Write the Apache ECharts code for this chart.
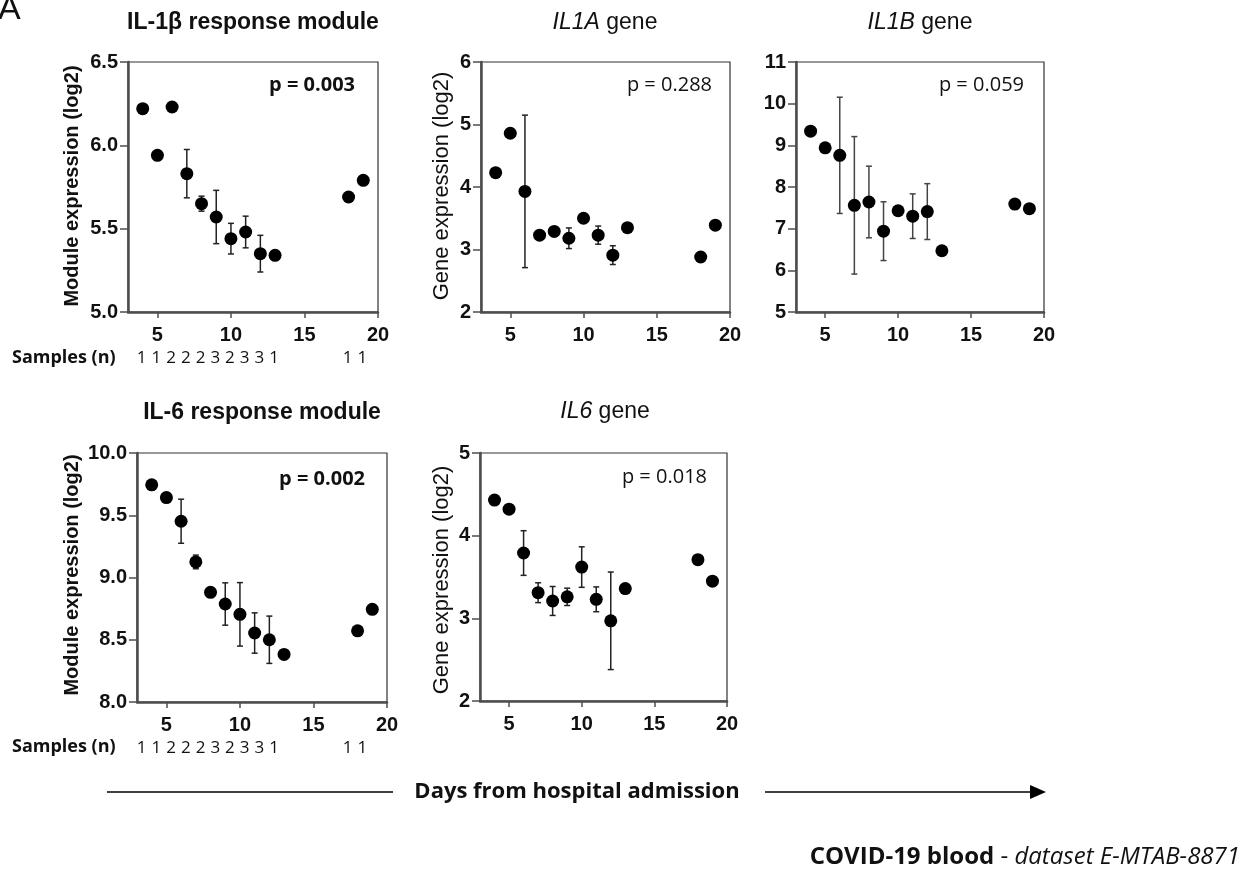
<!DOCTYPE html>
<html>
<head>
<meta charset="utf-8">
<title>COVID-19 blood - E-MTAB-8871</title>
<script src="https://cdn.jsdelivr.net/npm/echarts@6/dist/echarts.min.js"></script>
<style>
  html, body { margin: 0; padding: 0; background: #fff; }
  #chart { width: 1249px; height: 873px; }
</style>
</head>
<body>
<div id="chart"></div>
<script>
// days from hospital admission (x values shared by all panels)
var days = [4, 5, 6, 7, 8, 9, 10, 11, 12, 13, 18, 19];
var samples = [1, 1, 2, 2, 2, 3, 2, 3, 3, 1, 1, 1];
var xTicks = [5, 10, 15, 20];

// mean and error (half width), null = no bar
var il1bModuleMean = [6.22, 5.94, 6.23, 5.83, 5.65, 5.57, 5.44, 5.48, 5.35, 5.34, 5.69, 5.79];
var il1bModuleErr = [null, null, 0.025, 0.145, 0.045, 0.16, 0.092, 0.095, 0.11, null, null, null];

var il1aGeneMean = [4.23, 4.86, 3.93, 3.23, 3.29, 3.18, 3.50, 3.23, 2.91, 3.35, 2.88, 3.39];
var il1aGeneErr = [null, null, 1.22, null, null, 0.165, null, 0.145, 0.15, null, null, null];

var il1bGeneMean = [9.34, 8.94, 8.76, 7.56, 7.64, 6.94, 7.43, 7.30, 7.41, 6.47, 7.59, 7.48];
var il1bGeneErr = [null, null, 1.395, 1.65, 0.86, 0.705, null, 0.535, 0.67, null, null, null];

var il6ModuleMean = [9.744, 9.642, 9.452, 9.125, 8.881, 8.787, 8.704, 8.554, 8.50, 8.382, 8.572, 8.744];
var il6ModuleErr = [null, null, 0.177, 0.055, null, 0.17, 0.255, 0.162, 0.19, null, null, null];

var il6GeneMean = [4.43, 4.32, 3.79, 3.31, 3.21, 3.26, 3.62, 3.23, 2.97, 3.36, 3.71, 3.45];
var il6GeneErr = [null, null, 0.27, 0.12, 0.175, 0.105, 0.245, 0.15, 0.59, null, null, null];

var pValues = ['p = 0.003', 'p = 0.288', 'p = 0.059', 'p = 0.002', 'p = 0.018'];

var ARIAL = '"Liberation Sans", Arial, sans-serif';
var CALIBRI = '"Open Sans", "Noto Sans", sans-serif';

var panels = [
    {mean: il1bModuleMean, err: il1bModuleErr, min: 5, max: 6.5, step: 0.5, dec: 1,
        grid: {left: 128, top: 62, width: 250, height: 250}, sampleDx: -1},
    {mean: il1aGeneMean, err: il1aGeneErr, min: 2, max: 6, step: 1, dec: 0,
        grid: {left: 481, top: 62, width: 249, height: 250}},
    {mean: il1bGeneMean, err: il1bGeneErr, min: 5, max: 11, step: 1, dec: 0, barColor: '#444',
        grid: {left: 796, top: 62, width: 248, height: 250}},
    {mean: il6ModuleMean, err: il6ModuleErr, min: 8, max: 10, step: 0.5, dec: 1,
        grid: {left: 137, top: 453, width: 250, height: 249}, sampleDx: -10},
    {mean: il6GeneMean, err: il6GeneErr, min: 2, max: 5, step: 1, dec: 0,
        grid: {left: 480, top: 453, width: 247, height: 248}}
];

var grids = [], xAxes = [], yAxes = [], series = [];

function errRenderer(color) {
    return function (params, api) {
        var x = api.value(0),
            lo = api.coord([x, api.value(1)]),
            hi = api.coord([x, api.value(2)]),
            w = 3,
            st = {stroke: color, lineWidth: 1.5};
        return {
            type: 'group',
            children: [
                {type: 'line', shape: {x1: lo[0], y1: lo[1], x2: hi[0], y2: hi[1]}, style: st},
                {type: 'line', shape: {x1: lo[0] - w, y1: lo[1], x2: lo[0] + w, y2: lo[1]}, style: st},
                {type: 'line', shape: {x1: hi[0] - w, y1: hi[1], x2: hi[0] + w, y2: hi[1]}, style: st}
            ]
        };
    };
}

function sampleRenderer(ymin, dx) {
    return function (params, api) {
        var p = api.coord([api.value(0), ymin]);
        return {
            type: 'text',
            x: p[0] + dx,
            y: p[1] + 46,
            style: {
                text: String(api.value(1)),
                fill: '#111',
                fontSize: 17,
                fontFamily: CALIBRI,
                align: 'center',
                verticalAlign: 'middle'
            }
        };
    };
}

panels.forEach(function (pn, i) {
    var g = pn.grid, errData = [], ptData = [];

    grids.push({left: g.left, top: g.top, width: g.width, height: g.height,
        show: true, borderColor: '#333', borderWidth: 1.2, backgroundColor: 'transparent'});

    xAxes.push({
        gridIndex: i, type: 'value', min: 3, max: 20,
        splitLine: {show: false},
        axisLine: {onZero: false, lineStyle: {color: '#4d4d4d', width: 2.5}},
        axisTick: {customValues: xTicks, length: 6, lineStyle: {color: '#4d4d4d', width: 1.5}},
        axisLabel: {customValues: xTicks, margin: 13, color: '#111', fontSize: 20,
            fontWeight: 'bold', fontFamily: ARIAL}
    });

    yAxes.push({
        gridIndex: i, type: 'value', min: pn.min, max: pn.max, interval: pn.step,
        splitLine: {show: false},
        axisLine: {show: true, onZero: false, lineStyle: {color: '#4d4d4d', width: 2.5}},
        axisTick: {show: true, length: 8, lineStyle: {color: '#4d4d4d', width: 1.5}},
        axisLabel: {margin: 10, color: '#111', fontSize: 20, fontWeight: 'bold', fontFamily: ARIAL,
            formatter: function (v) { return v.toFixed(pn.dec); }}
    });

    days.forEach(function (d, k) {
        ptData.push([d, pn.mean[k]]);
        if (pn.err[k] != null) {
            errData.push([d, pn.mean[k] - pn.err[k], pn.mean[k] + pn.err[k]]);
        }
    });

    series.push({
        type: 'custom', xAxisIndex: i, yAxisIndex: i, clip: false, z: 2,
        renderItem: errRenderer(pn.barColor || '#222'),
        encode: {x: 0, y: [1, 2]},
        data: errData, silent: true
    });
    series.push({
        type: 'scatter', xAxisIndex: i, yAxisIndex: i, z: 3,
        symbol: 'circle', symbolSize: 13,
        itemStyle: {color: '#000', opacity: 1},
        data: ptData, silent: true
    });

    if (pn.sampleDx != null) {
        series.push({
            type: 'custom', xAxisIndex: i, yAxisIndex: i, clip: false,
            renderItem: sampleRenderer(pn.min, pn.sampleDx),
            data: days.map(function (d, k) { return [d, samples[k]]; }),
            silent: true
        });
    }
});

function txt(x, y, text, size, opts) {
    opts = opts || {};
    return {
        type: 'text', x: x, y: y, rotation: opts.rotation || 0, silent: true,
        style: {
            text: text,
            fill: opts.color || '#111',
            fontSize: size,
            fontWeight: opts.weight || 'normal',
            fontStyle: opts.style || 'normal',
            fontFamily: opts.family || ARIAL,
            align: opts.align || 'center',
            verticalAlign: 'middle',
            rich: opts.rich
        }
    };
}

var italicRich = {i: {fontStyle: 'italic', fontSize: 23, fontFamily: ARIAL, fill: '#111'}};

var graphics = [
    txt(-2, 10, 'A', 34, {align: 'left'}),

    // panel titles
    txt(253, 23, 'IL-1β response module', 23, {weight: 'bold'}),
    txt(605, 23, '{i|IL1A} gene', 23, {rich: italicRich}),
    txt(920, 23, '{i|IL1B} gene', 23, {rich: italicRich}),
    txt(262, 413, 'IL-6 response module', 23, {weight: 'bold'}),
    txt(605, 412, '{i|IL6} gene', 23, {rich: italicRich}),

    // p values
    txt(355, 85, pValues[0], 20, {weight: 'bold', family: CALIBRI, align: 'right'}),
    txt(712, 85, pValues[1], 20, {family: CALIBRI, align: 'right'}),
    txt(1024, 85, pValues[2], 20, {family: CALIBRI, align: 'right'}),
    txt(365, 479, pValues[3], 20, {weight: 'bold', family: CALIBRI, align: 'right'}),
    txt(707, 477, pValues[4], 20, {family: CALIBRI, align: 'right'}),

    // y axis titles
    txt(72, 186, 'Module expression (log2)', 20, {weight: 'bold', rotation: Math.PI / 2}),
    txt(442, 186, 'Gene expression (log2)', 22, {rotation: Math.PI / 2}),
    txt(72, 575, 'Module expression (log2)', 20, {weight: 'bold', rotation: Math.PI / 2}),
    txt(442, 580, 'Gene expression (log2)', 22, {rotation: Math.PI / 2}),

    // samples row labels
    txt(12, 358, 'Samples (n)', 18, {weight: 'bold', family: CALIBRI, align: 'left'}),
    txt(12, 747, 'Samples (n)', 18, {weight: 'bold', family: CALIBRI, align: 'left'}),

    // time arrow
    {type: 'line', silent: true, shape: {x1: 107, y1: 792, x2: 393, y2: 792},
        style: {stroke: '#000', lineWidth: 1.5}},
    {type: 'line', silent: true, shape: {x1: 765, y1: 792, x2: 1033, y2: 792},
        style: {stroke: '#000', lineWidth: 1.5}},
    {type: 'polygon', silent: true, shape: {points: [[1030, 785], [1046, 792], [1030, 799]]},
        style: {fill: '#000'}},
    txt(577, 792, 'Days from hospital admission', 22, {weight: 'bold', family: CALIBRI}),

    txt(1240, 857, '{b|COVID-19 blood} - {i|dataset E-MTAB-8871}', 24, {
        family: CALIBRI, align: 'right',
        rich: {
            b: {fontWeight: 'bold', fontSize: 24, fontFamily: CALIBRI, fill: '#111'},
            i: {fontStyle: 'italic', fontSize: 24, fontFamily: CALIBRI, fill: '#111'}
        }
    })
];

var chart = echarts.init(document.getElementById('chart'), null, {renderer: 'canvas'});
chart.setOption({
    backgroundColor: '#fff',
    animation: false,
    grid: grids,
    xAxis: xAxes,
    yAxis: yAxes,
    series: series,
    graphic: graphics
});
</script>
</body>
</html>
